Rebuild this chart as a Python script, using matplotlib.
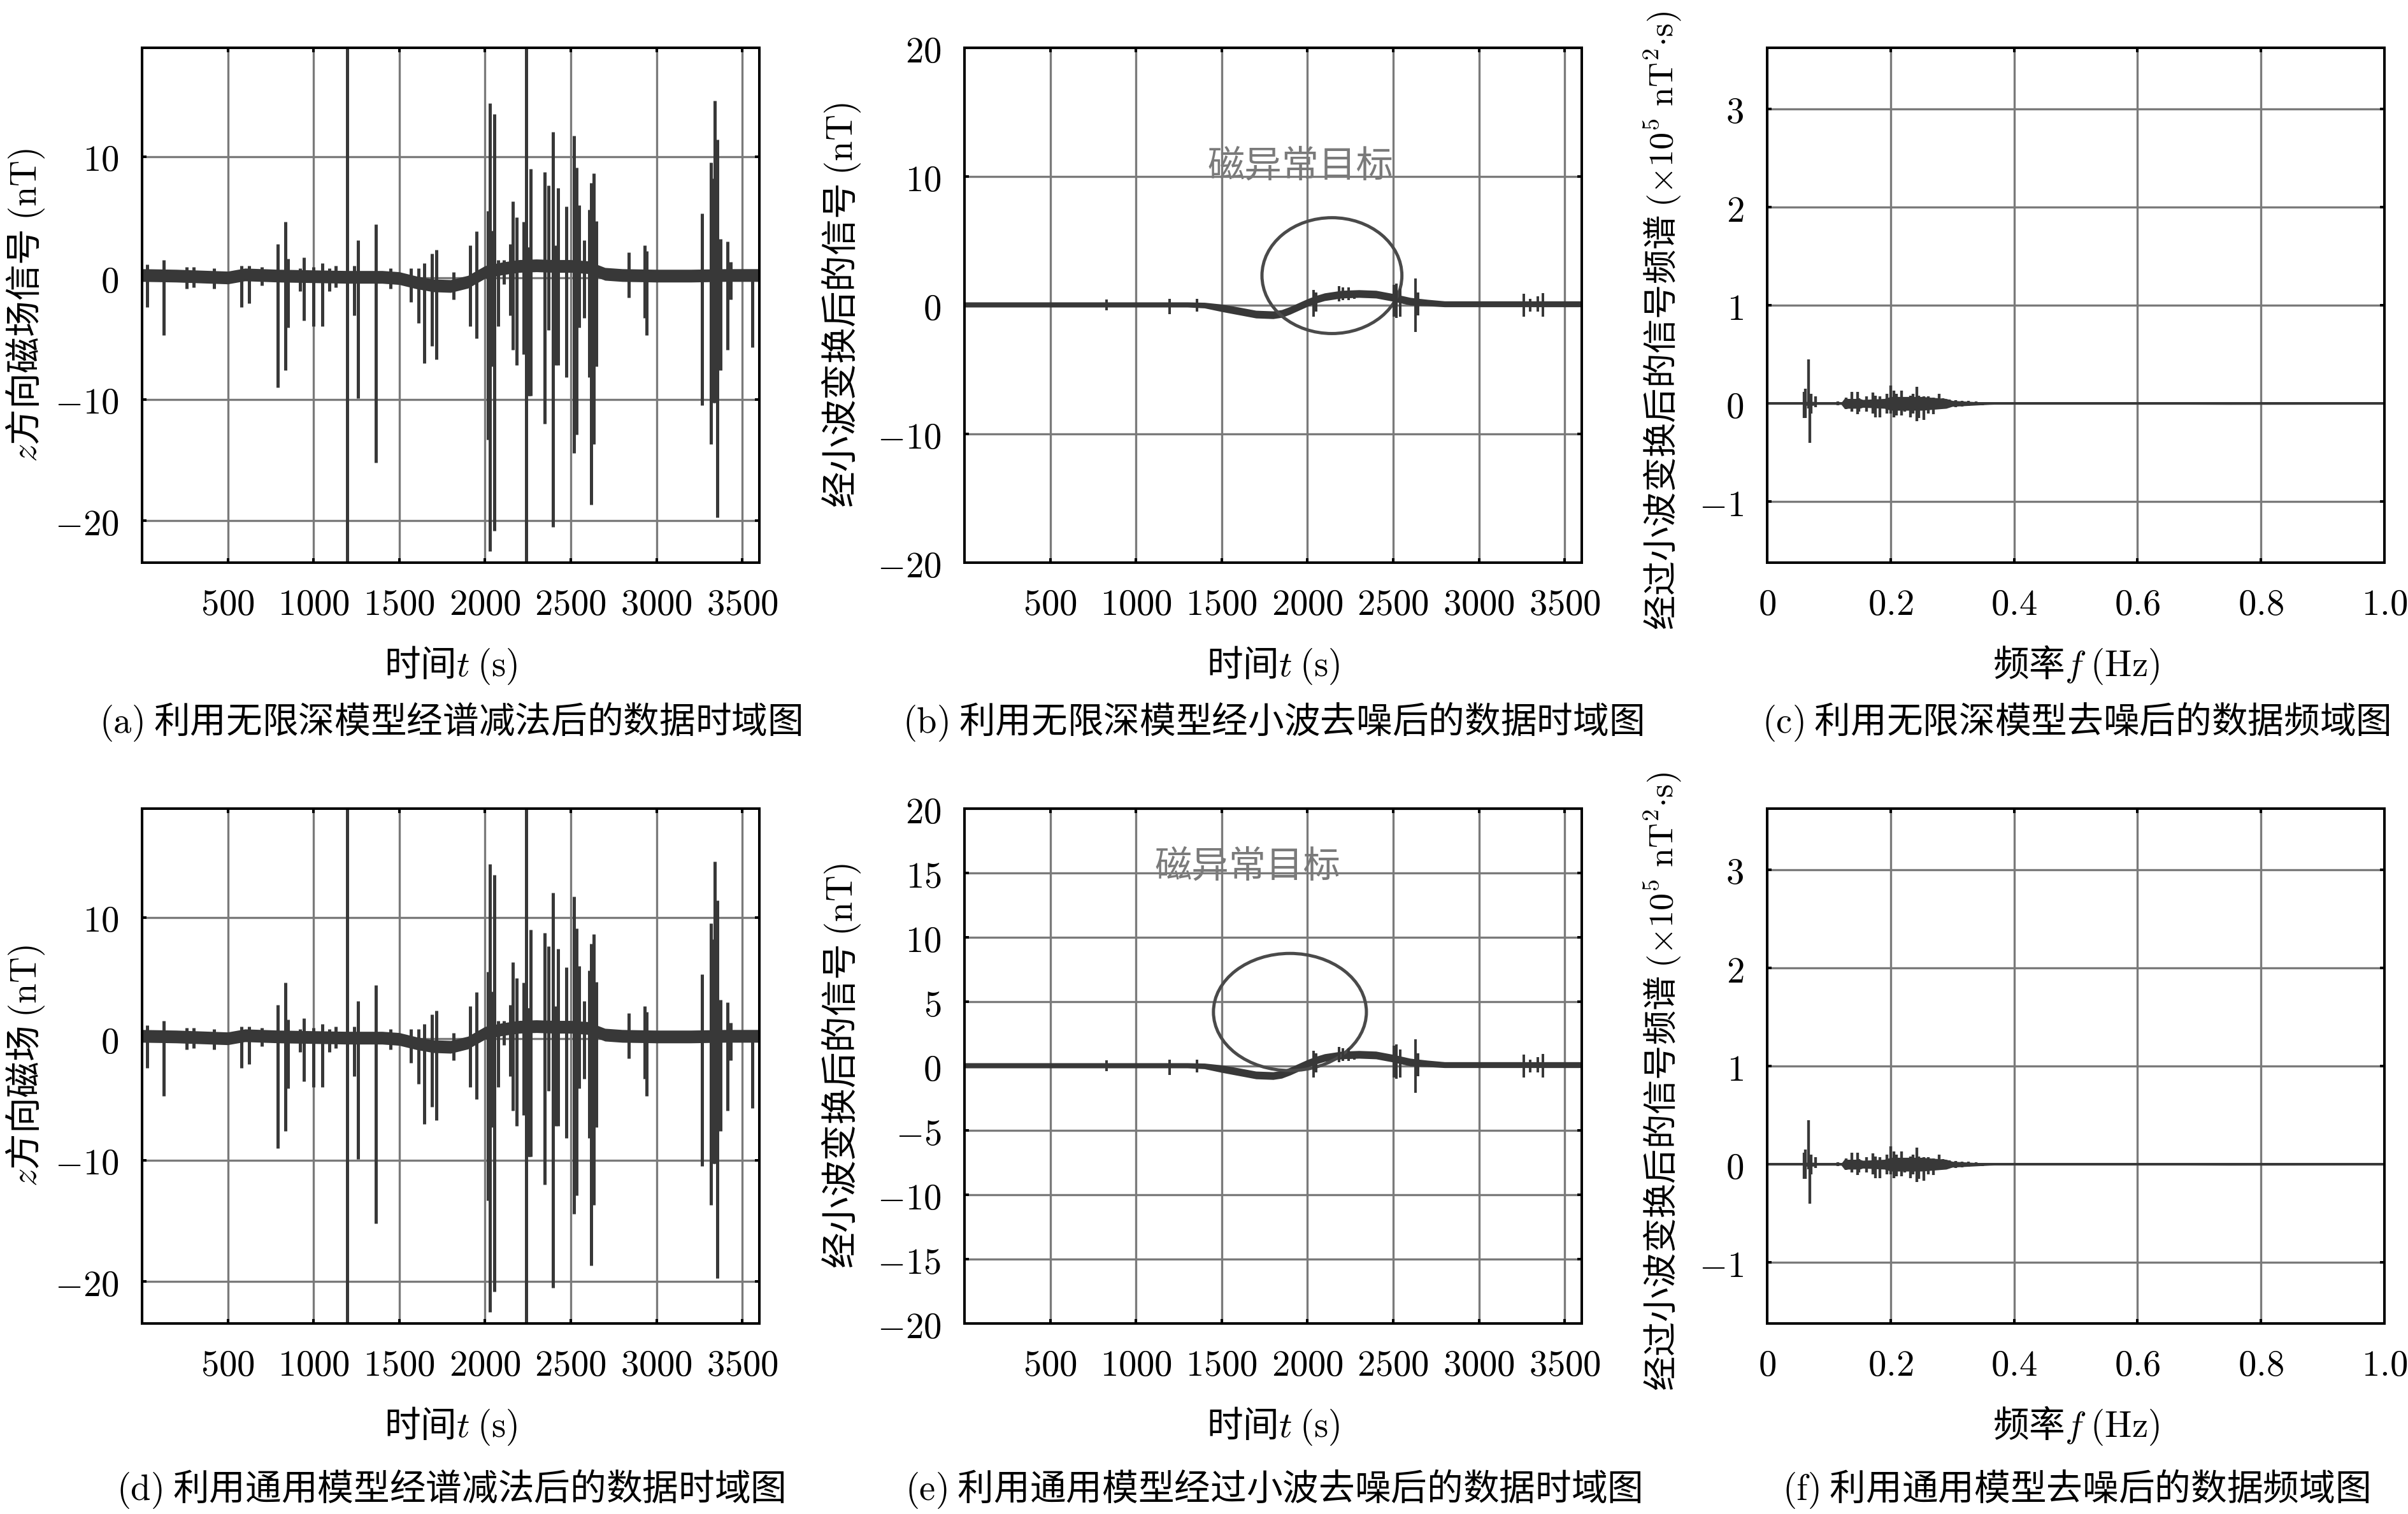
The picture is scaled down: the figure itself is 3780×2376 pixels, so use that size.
import matplotlib
matplotlib.use("Agg")
import matplotlib.pyplot as plt
from matplotlib.patches import Ellipse
import numpy as np

plt.rcParams['font.family'] = ['Noto Sans CJK SC', 'DejaVu Sans']
plt.rcParams['mathtext.fontset'] = 'cm'
plt.rcParams['axes.unicode_minus'] = True

# ---------------- data ----------------
# (a)/(d): spectral-subtraction time series: noise band envelope + spikes
band_a_t = [0, 200, 400, 500, 600, 800, 1000, 1200, 1400, 1500, 1600, 1700, 1800, 1900,
            2000, 2100, 2200, 2300, 2400, 2500, 2600, 2700, 2800, 3000, 3200, 3400, 3600]
band_a_hi = [0.75, 0.7, 0.6, 0.55, 0.8, 0.7, 0.65, 0.6, 0.6, 0.5, 0.15, -0.1, -0.15, 0.2,
             1.0, 1.3, 1.5, 1.55, 1.5, 1.5, 1.4, 0.85, 0.75, 0.7, 0.7, 0.75, 0.75]
band_a_lo = [-0.3, -0.35, -0.45, -0.5, -0.25, -0.35, -0.4, -0.45, -0.45, -0.55, -0.9, -1.15, -1.2, -0.85,
             -0.05, 0.25, 0.45, 0.5, 0.45, 0.45, 0.35, -0.2, -0.3, -0.35, -0.35, -0.3, -0.3]

spk_a_t = [31, 128, 260, 300, 420, 579, 623, 700, 790, 836, 850, 920, 944, 1001, 1051, 1094,
           1130, 1198, 1236, 1261, 1363, 1450, 1567, 1611, 1645, 1691, 1716, 1815, 1914, 1950,
           2016, 2028, 2047, 2055, 2075, 2112, 2146, 2164, 2184, 2226, 2239, 2250, 2258, 2266,
           2348, 2369, 2396, 2410, 2427, 2474, 2520, 2532, 2548, 2579, 2607, 2619, 2635, 2648,
           2840, 2930, 2943, 3267, 3319, 3331, 3341, 3356, 3372, 3416, 3434, 3558]
spk_a_lo = [-2.4, -4.7, -0.9, -0.8, -0.9, -2.4, -2.1, -0.6, -9.0, -7.6, -4.1, -1.1, -3.5, -4.0, -4.0, -1.1,
            -0.8, -30.0, -3.1, -9.9, -15.2, -0.9, -2.0, -3.7, -7.0, -5.6, -6.7, -1.8, -4.0, -5.0,
            -13.3, -22.5, -7.3, -20.8, -4.0, -0.5, -3.1, -5.9, -7.2, -6.3, -30.0, -9.7, -9.7, -9.7,
            -12.0, -4.3, -20.5, -7.2, -7.2, -8.2, -14.4, -12.9, -4.1, -3.3, -8.2, -18.7, -13.7, -7.3,
            -1.6, -3.3, -4.7, -10.5, -13.7, -10.3, -10.3, -19.7, -7.6, -5.9, -1.8, -5.7]
spk_a_hi = [1.1, 1.5, 0.9, 0.9, 0.8, 1.0, 1.0, 0.9, 2.8, 4.6, 1.6, 0.8, 1.7, 0.9, 1.2, 0.8,
            1.0, 30.0, 1.0, 3.1, 4.4, 0.8, 0.8, 0.8, 1.2, 2.0, 2.3, 0.5, 2.7, 3.85,
            5.5, 14.4, 3.9, 13.5, 1.5, 1.5, 2.8, 6.3, 5.0, 4.6, 30.0, 2.5, 2.5, 9.0,
            8.7, 7.6, 12.0, 2.7, 7.4, 5.9, 11.7, 9.1, 6.0, 3.1, 5.6, 7.8, 8.6, 4.7,
            2.1, 2.7, 2.2, 5.3, 9.5, 8.2, 14.6, 11.4, 3.2, 3.0, 1.3, 0.5]

# (b)/(e): wavelet-denoised time series
band_b_t = [0, 500, 1000, 1300, 1400, 1500, 1600, 1700, 1800, 1850, 1900, 1950, 2000,
            2050, 2100, 2200, 2300, 2400, 2500, 2550, 2600, 2700, 2800, 3000, 3300, 3600]
band_b_hi = [0.25, 0.25, 0.25, 0.25, 0.22, 0.08, -0.15, -0.4, -0.45, -0.35, -0.1, 0.2, 0.5,
             0.75, 0.95, 1.15, 1.2, 1.15, 0.9, 0.75, 0.6, 0.45, 0.33, 0.33, 0.33, 0.33]
band_b_lo = [-0.15, -0.15, -0.15, -0.15, -0.22, -0.5, -0.75, -1.0, -1.05, -0.95, -0.7, -0.4, -0.1,
             0.15, 0.35, 0.55, 0.6, 0.55, 0.3, 0.15, 0.0, -0.05, -0.13, -0.13, -0.13, -0.13]

spk_b_t = [827, 1195, 1356, 2035, 2050, 2185, 2206, 2240, 2275, 2505, 2520, 2540, 2632, 2645,
           3263, 3300, 3345, 3373]
spk_b_lo = [-0.4, -0.7, -0.5, -0.9, -0.5, 0.3, 0.4, 0.4, 0.5, -0.9, -1.0, -0.9, -2.1, -0.8,
            -0.9, -0.5, -0.5, -0.9]
spk_b_hi = [0.45, 0.5, 0.5, 1.2, 1.0, 1.5, 1.4, 1.4, 1.0, 1.6, 1.7, 1.3, 2.1, 1.0,
            0.9, 0.5, 0.7, 0.95]

# (c)/(f): spectrum
spec_band_f = [0.058, 0.075, 0.08, 0.12, 0.125, 0.15, 0.155, 0.19, 0.2, 0.25, 0.29, 0.30, 0.33, 0.36, 0.37, 0.66, 0.75, 1.0]
spec_band_hi = [0.02, 0.02, 0.01, 0.01, 0.05, 0.05, 0.04, 0.05, 0.07, 0.07, 0.05, 0.03, 0.02, 0.01, 0.008, 0.008, 0.01, 0.008]
spec_band_lo = [-0.02, -0.02, -0.01, -0.01, -0.05, -0.05, -0.04, -0.05, -0.07, -0.07, -0.05, -0.03, -0.02, -0.01, -0.008, -0.008, -0.01, -0.008]

spk_c_f = [0.0595, 0.0623, 0.0671, 0.0688, 0.0715, 0.0784, 0.1146,
           0.1283, 0.137, 0.1465, 0.149, 0.161, 0.171, 0.175, 0.183,
           0.194, 0.200, 0.205, 0.209, 0.218, 0.223, 0.232, 0.236, 0.243, 0.246, 0.254,
           0.261, 0.269, 0.279, 0.285, 0.295, 0.305, 0.316, 0.326, 0.338, 0.349,
           0.68, 0.70, 0.72, 0.74]
spk_c_lo = [-0.15, -0.15, -0.05, -0.40, -0.10, -0.04, -0.02,
            -0.06, -0.08, -0.11, -0.08, -0.08, -0.10, -0.14, -0.14,
            -0.10, -0.10, -0.14, -0.12, -0.12, -0.08, -0.14, -0.10, -0.18, -0.15, -0.17,
            -0.10, -0.11, -0.06, -0.05, -0.04, -0.035, -0.03, -0.025, -0.02, -0.015,
            -0.01, -0.012, -0.01, -0.01]
spk_c_hi = [0.12, 0.15, 0.45, 0.05, 0.10, 0.07, 0.02,
            0.06, 0.12, 0.12, 0.05, 0.07, 0.11, 0.08, 0.07,
            0.10, 0.18, 0.13, 0.10, 0.13, 0.05, 0.08, 0.10, 0.17, 0.08, 0.07,
            0.07, 0.06, 0.10, 0.05, 0.04, 0.035, 0.03, 0.025, 0.02, 0.015,
            0.01, 0.012, 0.01, 0.01]

time_ticks = [500, 1000, 1500, 2000, 2500, 3000, 3500]
freq_ticks = [0, 0.2, 0.4, 0.6, 0.8, 1.0]
freq_tick_labels = ['0', '0.2', '0.4', '0.6', '0.8', '1.0']
yticks_a = [-20, -10, 0, 10]
yticks_b = [-20, -10, 0, 10, 20]
yticks_e = [-20, -15, -10, -5, 0, 5, 10, 15, 20]
yticks_c = [-1, 0, 1, 2, 3]

captions = [
    r"$\mathrm{(a)}$ 利用无限深模型经谱减法后的数据时域图",
    r"$\mathrm{(b)}$ 利用无限深模型经小波去噪后的数据时域图",
    r"$\mathrm{(c)}$ 利用无限深模型去噪后的数据频域图",
    r"$\mathrm{(d)}$ 利用通用模型经谱减法后的数据时域图",
    r"$\mathrm{(e)}$ 利用通用模型经过小波去噪后的数据时域图",
    r"$\mathrm{(f)}$ 利用通用模型去噪后的数据频域图",
]
ylabels = [
    r"$z$方向磁场信号 $\mathrm{(nT)}$",
    r"经小波变换后的信号 $\mathrm{(nT)}$",
    r"经过小波变换后的信号频谱 $(\times 10^5\ \mathrm{nT^2{\cdot}s})$",
    r"$z$方向磁场 $\mathrm{(nT)}$",
    r"经小波变换后的信号 $\mathrm{(nT)}$",
    r"经过小波变换后的信号频谱 $(\times 10^5\ \mathrm{nT^2{\cdot}s})$",
]
xlabel_time = r"时间$t$ $\mathrm{(s)}$"
xlabel_freq = r"频率$f$ $\mathrm{(Hz)}$"
anno_text = "磁异常目标"

# ---------------- styling ----------------
W, H = 3780, 2376
DPI = 240
fig = plt.figure(figsize=(W / DPI, H / DPI), dpi=DPI)
fig.patch.set_facecolor('white')

col_left = [223 / W, 1514 / W, 2774 / W]
ax_w = 969 / W
row_bottom = [1 - 883 / H, 1 - 2077 / H]
ax_h = 808 / H

LC = '#383838'
GC = '#7a7a7a'
FS = 17

def style(ax):
    ax.grid(True, color=GC, linewidth=1.0)
    ax.set_axisbelow(True)
    for s in ax.spines.values():
        s.set_linewidth(1.2)
        s.set_color('black')
    ax.tick_params(direction='in', length=2.2, width=1.2, top=True, right=True,
                   labelsize=FS, pad=11)

def mfmt(vals):
    return [r"$%g$" % v if v >= 0 else r"$-%g$" % (-v) for v in vals]

axes = []
for r in range(2):
    for c in range(3):
        ax = fig.add_axes([col_left[c], row_bottom[r], ax_w, ax_h])
        axes.append(ax)

ylab_x = [-0.189, -0.200, -0.169]
for i, ax in enumerate(axes):
    c = i % 3
    style(ax)
    if c in (0, 1):
        ax.set_xlim(0, 3600)
        ax.set_xticks(time_ticks)
        ax.set_xticklabels(mfmt(time_ticks))
        ax.text(0.5, -0.199, xlabel_time, transform=ax.transAxes, ha='center', va='center', fontsize=FS)
        ax.text(ylab_x[c], 0.5, ylabels[i], transform=ax.transAxes, rotation=90,
                ha='center', va='center', fontsize=FS)
    else:
        ax.set_xlim(0, 1.0)
        ax.set_xticks(freq_ticks)
        ax.set_xticklabels([r"$%s$" % s for s in freq_tick_labels])
        ax.set_ylim(-1.62, 3.62)
        ax.set_yticks(yticks_c)
        ax.set_yticklabels(mfmt(yticks_c))
        ax.text(0.5, -0.199, xlabel_freq, transform=ax.transAxes, ha='center', va='center', fontsize=FS)
        ax.text(ylab_x[c], 0.47, ylabels[i], transform=ax.transAxes, rotation=90,
                ha='center', va='center', fontsize=16.3)

# (a) and (d)
for ax in (axes[0], axes[3]):
    ax.fill_between(band_a_t, band_a_lo, band_a_hi, color=LC, linewidth=0)
    ax.vlines(spk_a_t, spk_a_lo, spk_a_hi, color=LC, linewidth=1.5)
    ax.set_ylim(-23.45, 18.95)
    ax.set_yticks(yticks_a)
    ax.set_yticklabels(mfmt(yticks_a))

# (b) and (e)
for ax in (axes[1], axes[4]):
    ax.fill_between(band_b_t, band_b_lo, band_b_hi, color=LC, linewidth=0)
    ax.vlines(spk_b_t, spk_b_lo, spk_b_hi, color=LC, linewidth=1.2)
    ax.set_ylim(-20, 20)
axes[1].set_yticks(yticks_b)
axes[1].set_yticklabels(mfmt(yticks_b))
axes[4].set_yticks(yticks_e)
axes[4].set_yticklabels(mfmt(yticks_e))

axes[1].add_patch(Ellipse((2143, 2.3), 816, 9.0, fill=False, edgecolor='#4a4a4a', linewidth=1.5))
axes[1].text(1958, 10.8, anno_text, ha='center', va='center', fontsize=17.5, color='#7a7a7a')
axes[4].add_patch(Ellipse((1898, 4.2), 892, 9.1, fill=False, edgecolor='#4a4a4a', linewidth=1.5))
axes[4].text(1653, 15.5, anno_text, ha='center', va='center', fontsize=17.5, color='#7a7a7a')

# (c) and (f)
for ax in (axes[2], axes[5]):
    ax.plot([0, 1.0], [0, 0], color=LC, linewidth=1.2)
    ax.fill_between(spec_band_f, spec_band_lo, spec_band_hi, color=LC, linewidth=0)
    ax.vlines(spk_c_f, spk_c_lo, spk_c_hi, color=LC, linewidth=1.3)

# captions
cap_y = [1 - 1133 / H, 1 - 2336 / H]
for i, cap in enumerate(captions):
    r, c = divmod(i, 3)
    cx = col_left[c] + ax_w / 2
    fig.text(cx, cap_y[r], cap, ha='center', va='center', fontsize=FS)

fig.savefig("out.png", dpi=DPI, facecolor='white')
